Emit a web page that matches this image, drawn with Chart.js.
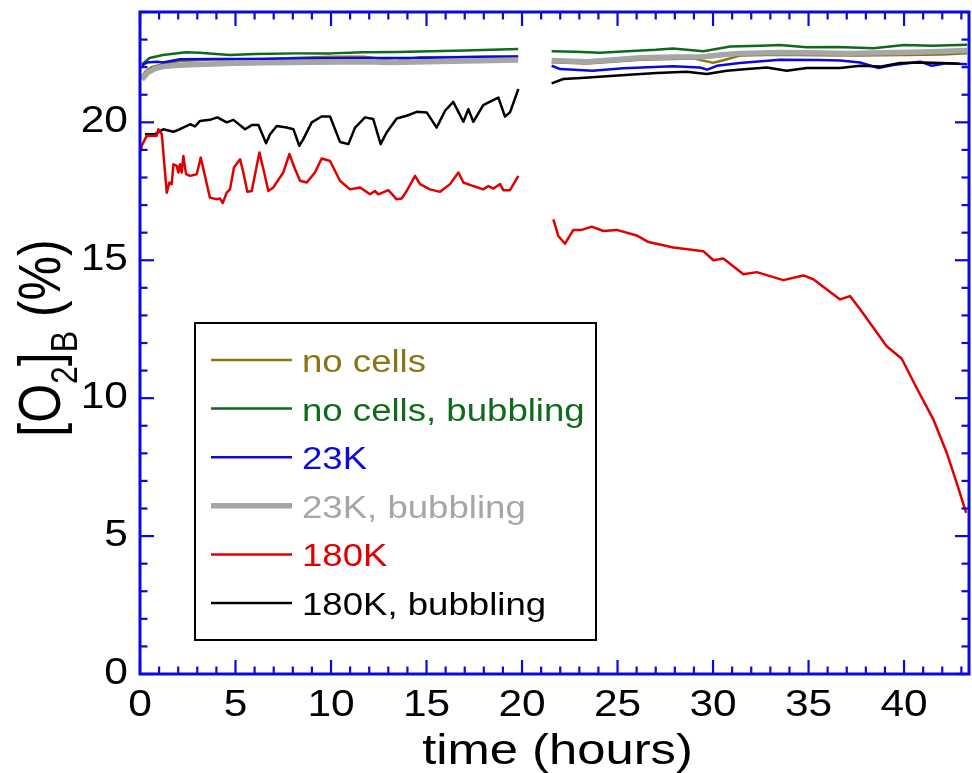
<!DOCTYPE html>
<html><head><meta charset="utf-8">
<script src="https://cdn.jsdelivr.net/npm/chart.js@4/dist/chart.umd.min.js"></script>
<style>html,body{margin:0;padding:0;background:#fff;overflow:hidden}#wrap{width:972px;height:773px}</style>
</head><body><div id="wrap"><canvas id="c" width="972" height="773"></canvas></div>
<script>
// ---- data: [time (hours), [O2]B (%)]; null marks the measurement gap ----
const xTicks = [0, 5, 10, 15, 20, 25, 30, 35, 40];
const yTicks = [0, 5, 10, 15, 20];
const seriesLabels = ['no cells', 'no cells, bubbling', '23K', '23K, bubbling', '180K', '180K, bubbling'];

const noCells = [[0.1,21.65],[0.3,21.85],[0.6,22.0],[1.2,22.11],[2.1,22.22],[3.8,22.28],[6.5,22.3],[8.0,22.33],[10.0,22.38],[11.7,22.38],[12.4,22.32],[12.9,22.25],[13.4,22.22],[14.0,22.3],[14.7,22.36],[17.0,22.37],[19.8,22.38],
  [20.6,null],[21.55,22.18],[23.4,22.13],[26.2,22.27],[29.0,22.31],[29.6,22.22],[30.0,22.16],[30.5,22.24],[31.4,22.42],[33.5,22.45],[35.5,22.43],[37.5,22.42],[40.0,22.44],[42.0,22.46],[43.3,22.5]];
const noCellsBubbling = [[0.1,22.1],[0.5,22.33],[1.2,22.44],[2.4,22.54],[3.1,22.52],[4.7,22.44],[6.0,22.48],[8.2,22.5],[10.0,22.5],[11.7,22.54],[13.5,22.55],[15.2,22.58],[17.0,22.6],[19.8,22.66],
  [20.6,null],[21.55,22.58],[22.8,22.56],[24.1,22.52],[25.5,22.58],[27.0,22.63],[27.9,22.68],[29.5,22.58],[30.9,22.75],[32.5,22.78],[33.5,22.8],[34.9,22.72],[36.5,22.73],[38.4,22.69],[40.0,22.8],[41.5,22.78],[43.3,22.81]];
const k23 = [[0.1,22.05],[0.35,22.17],[0.9,22.2],[1.2,22.17],[2.1,22.29],[3.8,22.3],[6.0,22.3],[8.0,22.31],[10.0,22.32],[12.0,22.33],[14.0,22.33],[16.0,22.35],[18.0,22.38],[19.8,22.39],
  [20.6,null],[21.55,22.05],[22.0,21.93],[23.7,21.87],[25.3,21.96],[27.9,22.03],[29.3,21.99],[29.7,21.91],[30.2,22.05],[31.4,22.15],[33.5,22.27],[35.5,22.26],[36.65,22.24],[37.7,22.17],[38.66,21.97],[39.44,22.08],[40.84,22.2],[41.45,22.05],[42.2,22.14],[43.3,22.11]];
const k23Bubbling = [[0.1,21.55],[0.4,21.8],[0.8,21.95],[1.2,22.02],[2.0,22.07],[3.0,22.1],[5.0,22.14],[6.5,22.16],[9.0,22.18],[12.0,22.2],[13.0,22.17],[15.0,22.2],[17.0,22.22],[19.8,22.26],
  [20.6,null],[21.55,22.24],[23.4,22.2],[25.0,22.28],[26.2,22.34],[28.0,22.37],[29.5,22.38],[30.5,22.45],[31.4,22.5],[33.5,22.53],[35.0,22.52],[37.0,22.5],[39.0,22.52],[41.0,22.55],[43.3,22.6]];
const k180 = [[0.05,18.95],[0.09,19.15],[0.35,19.51],[0.87,19.51],[0.96,19.75],[1.14,19.57],[1.4,17.45],[1.54,17.82],[1.66,17.76],[1.75,18.48],[1.92,18.42],[2.01,18.18],[2.09,18.48],[2.18,18.18],[2.27,18.78],[2.41,18.12],[2.62,18.06],[2.97,18.12],[3.18,18.72],[3.4,18.06],[3.66,17.27],[4.01,17.21],[4.19,17.24],[4.33,17.07],[4.54,17.45],[4.71,17.57],[4.92,18.36],[5.24,18.66],[5.41,18.18],[5.62,17.48],[5.85,17.51],[6.25,18.91],[6.46,18.3],[6.72,17.51],[6.98,17.64],[7.5,18.18],[7.82,18.85],[8.12,18.3],[8.38,17.88],[8.73,17.82],[9.16,18.18],[9.51,18.69],[9.95,18.6],[10.47,17.88],[10.99,17.57],[11.52,17.64],[12.04,17.39],[12.3,17.51],[12.48,17.39],[13.0,17.54],[13.44,17.21],[13.7,17.24],[13.96,17.51],[14.4,18.06],[14.66,17.76],[15.18,17.57],[15.71,17.48],[16.23,17.76],[16.67,18.18],[16.93,17.82],[17.45,17.69],[17.97,17.57],[18.24,17.69],[18.5,17.6],[18.85,17.76],[19.02,17.54],[19.37,17.54],[19.81,18.06],
  [20.6,null],[21.64,16.48],[21.9,15.88],[22.25,15.6],[22.69,16.1],[23.13,16.1],[23.65,16.22],[24.26,16.06],[24.96,16.1],[26.0,15.9],[26.62,15.66],[27.92,15.46],[29.49,15.33],[30.02,15.0],[30.54,15.06],[31.59,14.49],[32.29,14.57],[33.68,14.28],[34.73,14.45],[35.25,14.31],[36.65,13.58],[37.17,13.7],[37.7,13.22],[39.09,11.88],[39.88,11.43],[40.66,10.37],[41.54,9.22],[42.24,8.01],[42.76,6.92],[43.25,5.84]];
const k180Bubbling = [[0.26,19.57],[0.79,19.57],[1.22,19.75],[1.75,19.66],[2.09,19.75],[2.62,19.93],[2.88,19.85],[3.14,20.05],[3.66,20.09],[4.05,20.18],[4.54,20.0],[4.89,20.09],[5.5,19.75],[5.85,19.9],[6.2,19.9],[6.6,19.24],[6.81,19.57],[7.16,19.87],[7.68,19.81],[8.03,19.75],[8.34,19.15],[8.55,19.39],[8.99,20.0],[9.51,20.21],[9.95,20.21],[10.47,19.29],[10.91,19.21],[11.26,19.81],[11.78,20.18],[12.21,20.12],[12.6,19.21],[12.91,19.63],[13.44,20.14],[13.96,20.24],[14.49,20.38],[15.01,20.36],[15.53,19.81],[15.97,20.42],[16.4,20.74],[16.93,20.02],[17.19,20.48],[17.45,20.02],[17.97,20.62],[18.41,20.78],[18.76,20.9],[19.11,20.21],[19.37,20.36],[19.81,21.21],
  [20.6,null],[21.55,21.41],[22.16,21.57],[23.3,21.62],[24.43,21.67],[25.8,21.73],[27.05,21.79],[28.62,21.83],[29.67,21.75],[30.72,21.87],[31.8,21.93],[32.81,21.99],[33.86,21.87],[34.9,21.97],[36.65,21.97],[37.7,22.05],[38.74,22.02],[39.79,22.15],[41.0,22.17],[42.0,22.15],[42.9,22.12]];

// ---- styling ----
const FONT = '"Liberation Sans", Arial, Helvetica, sans-serif';
const AXIS = '#0a0adc';
const SX = 1.18; // horizontal stretch of the reference's text
const colors = ['#8a7414', '#0e6b1c', '#0a0ae0', '#a6a6a6', '#e00000', '#000000'];
const widths = [2.5, 2.5, 2.5, 5.5, 2.5, 2.5];
const seriesData = [noCells, noCellsBubbling, k23, k23Bubbling, k180, k180Bubbling];
const drawOrder = [5, 4, 3, 2, 1, 1];

const canvas = document.getElementById('c');
const c2d = canvas.getContext('2d');
const rawFill = c2d.fillText.bind(c2d);
c2d.fillText = function (t, x, y) { this.save(); this.translate(x, y); this.scale(SX, 1); rawFill(t, 0, 0); this.restore(); };

const framePlugin = {
  id: 'frame',
  afterDatasetsDraw(chart) {
    const { ctx, chartArea: a, scales: { x, y } } = chart;
    ctx.save();
    ctx.strokeStyle = AXIS; ctx.lineWidth = 2.2; ctx.lineCap = 'butt';
    const seg = (x1, y1, x2, y2) => { ctx.beginPath(); ctx.moveTo(x1, y1); ctx.lineTo(x2, y2); ctx.stroke(); };
    for (let h = 0; h <= x.max; h++) {
      const px = x.getPixelForValue(h), L = h % 5 === 0 ? 14 : 7.5;
      seg(px, a.bottom, px, a.bottom - L); seg(px, a.top, px, a.top + L);
    }
    for (let v = 0; v <= y.max; v++) {
      const py = y.getPixelForValue(v), L = v % 5 === 0 ? 14 : 7.5;
      seg(a.left, py, a.left + L, py); seg(a.right, py, a.right - L, py);
    }
    ctx.lineWidth = 3;
    ctx.strokeRect(a.left, a.top, a.right - a.left, a.bottom - a.top);
    ctx.restore();
  },
  afterDraw(chart) {
    const { ctx, chartArea: a } = chart;
    ctx.save();
    // legend
    ctx.fillStyle = '#fff'; ctx.fillRect(195, 323, 401, 317);
    ctx.strokeStyle = '#000'; ctx.lineWidth = 2; ctx.strokeRect(195, 323, 401, 317);
    ctx.font = '31px ' + FONT; ctx.textAlign = 'left'; ctx.textBaseline = 'alphabetic';
    chart.data.datasets.forEach((ds, i) => {
      const ly = 360 + i * 48.6;
      ctx.strokeStyle = ds.borderColor; ctx.lineWidth = ds.borderWidth;
      ctx.beginPath(); ctx.moveTo(211, ly); ctx.lineTo(292, ly); ctx.stroke();
      ctx.fillStyle = ds.borderColor; ctx.fillText(ds.label, 302, ly + 12);
    });
    // x title
    ctx.fillStyle = '#000'; ctx.font = '43px ' + FONT; ctx.textAlign = 'center';
    ctx.fillText('time (hours)', (a.left + a.right) / 2 + 3, 764);
    // y title with subscripts, rotated
    ctx.translate(60, (a.top + a.bottom) / 2 - 5);
    ctx.rotate(-Math.PI / 2);
    ctx.scale(1, SX);
    const big = '50px ' + FONT, small = '32px ' + FONT;
    const parts = [['[O', big, 0], ['2', small, 14], [']', big, 0], ['B', small, 14], [' (%)', big, 0]];
    let total = 0;
    parts.forEach(p => { ctx.font = p[1]; total += ctx.measureText(p[0]).width; });
    let cx = -total / 2;
    ctx.textAlign = 'left';
    parts.forEach(p => { ctx.font = p[1]; rawFill(p[0], cx, p[2]); cx += ctx.measureText(p[0]).width; });
    ctx.restore();
  }
};

new Chart(canvas, {
  type: 'line',
  data: {
    datasets: seriesData.map((s, i) => ({
      label: seriesLabels[i],
      data: s.map(([t, v]) => ({ x: t, y: v })),
      borderColor: colors[i], backgroundColor: colors[i],
      borderWidth: widths[i], pointRadius: 0, tension: 0, spanGaps: false,
      borderJoinStyle: 'round', order: drawOrder[i]
    }))
  },
  options: {
    responsive: false, animation: false, devicePixelRatio: 1,
    layout: { padding: { left: 0, right: 3, top: 12, bottom: 0 } },
    plugins: { legend: { display: false }, tooltip: { enabled: false } },
    scales: {
      x: {
        type: 'linear', min: 0, max: 43.4,
        afterFit: s => { s.height = 99; s.paddingLeft = 0; s.paddingRight = 0; },
        afterBuildTicks: s => { s.ticks = xTicks.map(v => ({ value: v })); },
        grid: { display: false, drawTicks: false }, border: { display: false },
        ticks: { includeBounds: false, maxRotation: 0, autoSkip: false, padding: 10, color: '#000', font: { family: FONT, size: 36 } }
      },
      y: {
        type: 'linear', min: 0, max: 24,
        afterFit: s => { s.width = 140; s.paddingTop = 0; s.paddingBottom = 0; },
        afterBuildTicks: s => { s.ticks = yTicks.map(v => ({ value: v })); },
        grid: { display: false, drawTicks: false }, border: { display: false },
        ticks: { includeBounds: false, autoSkip: false, padding: 12, color: '#000', font: { family: FONT, size: 36 } }
      }
    }
  },
  plugins: [framePlugin]
});
</script></body></html>
